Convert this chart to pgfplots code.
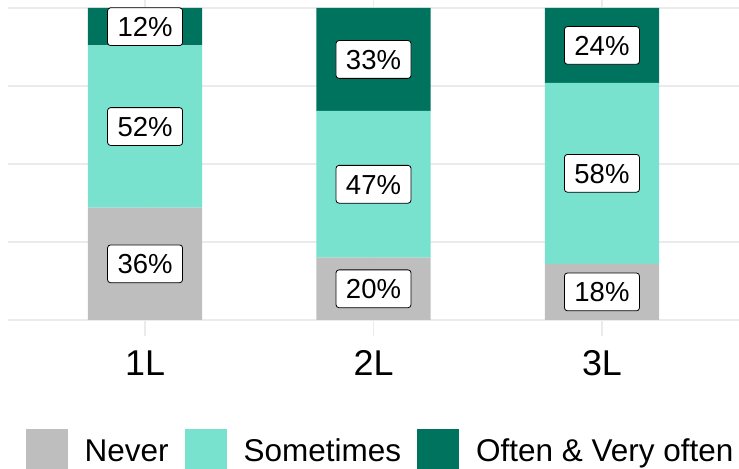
\documentclass[border=0pt]{standalone}
\usepackage{pgfplots}
\pgfplotsset{compat=1.18}
\usepackage{pgfplotstable}
\usepackage{fontspec}
\setmainfont{Liberation Sans}
\definecolor{cNever}{RGB}{190,190,190}
\definecolor{cSome}{RGB}{120,226,207}
\definecolor{cOften}{RGB}{0,115,94}
\definecolor{gridc}{RGB}{235,235,235}

\pgfplotstableread{
x n s o
1 36 52 12
2 20 47 33
3 18 58 24
}\data

\begin{document}
\begin{tikzpicture}[x=1bp,y=1bp]
\useasboundingbox (0,0) rectangle (739,469);
\pgfplotsset{
  common/.style={
    at={(8bp,133.4bp)}, anchor=south west,
    scale only axis, width=731bp, height=335.6bp,
    xmin=0.4, xmax=3.6, ymin=-5, ymax=102.56,
  },
  sq/.style={legend image code/.code={\fill[##1] (0bp,-21bp) rectangle (42bp,21bp);}},
  lbl/.style={
    draw=none, mark=none, forget plot,
    nodes near coords={\pgfplotspointmeta\%},
    nodes near coords align=center,
    point meta=explicit symbolic,
    every node near coord/.append style={
      anchor=center, draw=black, line width=0.8bp, fill=white, text=black,
      rounded corners=3bp, inner xsep=10bp, inner ysep=9bp,
      text height=19.8bp, text depth=0bp,
      font=\fontsize{27.6}{30}\selectfont
    }
  }
}
\begin{axis}[common,
  ybar stacked, bar width=0.5,
  axis line style={draw=none},
  tick style={draw=none},
  major tick length=0pt,
  xtick={1,2,3}, xticklabels={1L,2L,3L},
  ytick={0,25,50,75,100}, yticklabels={},
  grid=major,
  grid style={gridc, line width=1.2bp},
  xticklabel style={font=\fontsize{36}{40}\selectfont, anchor=base, yshift=-40bp},
  legend columns=3,
  legend style={
    at={(axis description cs:0.02462,-0.3409)}, anchor=west,
    draw=none, fill=none, inner sep=0pt, outer sep=0pt,
    font=\fontsize{31.6}{36}\selectfont,
    nodes={anchor=west, text height=22.5bp, text depth=0bp, inner sep=0pt},
    /tikz/every odd column/.append style={column sep=16.6bp},
    /tikz/every even column/.append style={column sep=16.4bp},
  },
]
\addplot[fill=cNever, draw=none, sq] table[x=x, y=n] {\data};
\addlegendentry{Never}
\addplot[fill=cSome, draw=none, sq] table[x=x, y=s] {\data};
\addlegendentry{Sometimes}
\addplot[fill=cOften, draw=none, sq] table[x=x, y=o] {\data};
\addlegendentry{Often \& Very often}
\end{axis}
\begin{axis}[common, hide axis, clip=false]
\addplot[lbl] table[x=x, y expr=\thisrow{n}/2, meta=n] {\data};
\addplot[lbl] table[x=x, y expr=\thisrow{n}+\thisrow{s}/2, meta=s] {\data};
\addplot[lbl] table[x=x, y expr=\thisrow{n}+\thisrow{s}+\thisrow{o}/2, meta=o] {\data};
\end{axis}
\end{tikzpicture}
\end{document}
